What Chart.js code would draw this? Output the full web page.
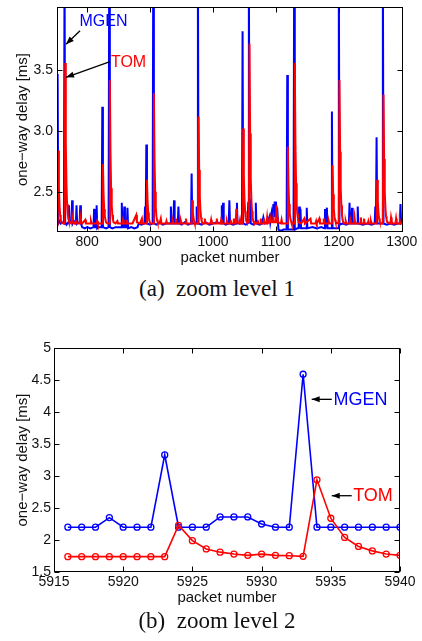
<!DOCTYPE html>
<html>
<head>
<meta charset="utf-8">
<script src="https://cdn.jsdelivr.net/npm/chart.js@4.4.0/dist/chart.umd.min.js"></script>
<style>
html,body{margin:0;padding:0;background:#fff;}
body{width:422px;height:641px;position:relative;overflow:hidden;}
.box{position:absolute;left:0;width:422px;}
.cap{position:absolute;left:217px;transform:translateX(-50%);font-family:"Liberation Serif","Times New Roman",serif;font-size:23px;line-height:1;color:#111;white-space:nowrap;}
</style>
</head>
<body>
<div class="box" style="top:0;height:272px"><canvas id="c1" width="422" height="272"></canvas></div>
<div class="cap" style="top:277px">(a)&nbsp; zoom level 1</div>
<div class="box" style="top:330px;height:280px"><canvas id="c2" width="422" height="280"></canvas></div>
<div class="cap" style="top:609px">(b)&nbsp; zoom level 2</div>
<script>
// zoom level 1: [packet number, one-way delay ms]
const mgenZoom1 = [
  [752,2.25],[753,3.47],[754,2.24],[756,2.26],[758,2.24],[760,2.25],[763,2.24],[764,4.40],[765,2.25],[767,2.23],
  [770,2.25],[771,2.39],[772,2.24],[775,2.25],[776,2.43],[777,2.24],[779,2.26],[782,2.24],[783,2.39],[784,2.24],
  [788,2.25],[789,2.39],[790,2.24],[792,2.21],[796,2.20],[800,2.21],[805,2.20],[810,2.21],[811,2.36],[812,2.21],
  [814,2.21],[815,2.39],[816,2.20],[818,2.21],[823,2.21],[824,3.20],[825,2.21],[830,2.20],[834,2.21],[835,4.40],
  [836,2.21],[840,2.20],[845,2.21],[850,2.21],[854,2.21],[855,2.41],[856,2.21],[858,2.21],[859,2.38],[860,2.21],
  [863,2.21],[864,2.37],[865,2.20],[870,2.21],[875,2.20],[880,2.21],[882,2.24],[886,2.23],[891,2.24],[892,2.38],
  [893,2.24],[894,2.89],[895,2.24],[900,2.23],[904,2.24],[905,4.40],[906,2.24],[910,2.23],[915,2.25],[920,2.23],
  [925,2.24],[932,2.24],[933,2.38],[934,2.24],[937,2.24],[938,2.43],[939,2.24],[944,2.24],[945,2.38],[946,2.24],
  [950,2.23],[955,2.25],[960,2.23],[965,2.24],[966,2.65],[967,2.24],[973,2.24],[974,2.38],[975,2.24],[976,4.40],
  [977,2.24],[982,2.23],[988,2.25],[994,2.23],[1000,2.24],[1006,2.25],[1013,2.24],[1014,2.39],[1015,2.24],[1016,2.41],
  [1017,2.24],[1020,2.23],[1025,2.24],[1026,2.43],[1027,2.24],[1032,2.23],[1037,2.24],[1038,2.41],[1039,2.24],[1046,2.24],
  [1047,3.82],[1048,2.24],[1052,2.23],[1055,2.24],[1056,2.41],[1057,4.40],[1058,2.24],[1059,2.44],[1060,2.24],[1064,2.23],
  [1067,2.24],[1068,2.41],[1069,2.24],[1074,2.23],[1078,2.24],[1080,2.29],[1082,2.24],[1086,2.25],[1088,2.27],[1090,2.30],
  [1091,2.25],[1093,2.32],[1094,2.27],[1096,2.40],[1097,2.30],[1098,2.42],[1099,2.32],[1100,2.42],[1101,2.29],[1102,2.37],
  [1104,2.19],[1108,2.18],[1112,2.19],[1117,2.19],[1118,3.46],[1119,2.19],[1124,2.19],[1128,2.19],[1129,4.40],[1130,2.19],
  [1134,2.20],[1136,2.20],[1137,2.38],[1138,2.20],[1139,2.36],[1140,2.20],[1148,2.20],[1149,2.37],[1150,2.20],[1158,2.21],
  [1165,2.20],[1172,2.21],[1177,2.20],[1178,2.36],[1179,2.20],[1181,2.37],[1182,2.20],[1188,2.20],[1189,3.16],[1190,2.20],
  [1199,2.20],[1200,4.40],[1201,2.23],[1206,2.24],[1212,2.23],[1216,2.24],[1217,2.41],[1218,2.24],[1220,2.24],[1221,2.37],
  [1222,2.24],[1229,2.24],[1230,2.38],[1231,2.24],[1238,2.23],[1245,2.24],[1252,2.23],[1257,2.24],[1258,2.38],[1259,2.24],
  [1260,2.95],[1261,2.24],[1269,2.24],[1270,4.40],[1271,2.24],[1276,2.23],[1282,2.24],[1288,2.23],[1294,2.24],[1297,2.24],
  [1298,2.40],[1299,2.24],[1302,2.25]
];
const tomZoom1 = [
  [752,2.26],[753,2.25],[754,2.84],[755,2.54],[756,2.39],[757,2.31],[758,2.27],[759,2.25],[762,2.24],[764,2.24],
  [765,3.56],[766,2.90],[767,2.57],[768,2.40],[769,2.32],[770,2.28],[771,2.26],[772,2.25],[775,2.24],[776,2.29],
  [777,2.25],[780,2.24],[782,2.26],[784,2.24],[788,2.24],[789,2.29],[790,2.25],[792,2.24],[797,2.27],[798,2.24],
  [805,2.24],[806,2.26],[807,2.24],[815,2.24],[816,2.26],[817,2.24],[824,2.24],[825,2.73],[826,2.48],[827,2.36],
  [828,2.30],[829,2.27],[830,2.25],[832,2.24],[835,2.24],[836,3.42],[837,2.83],[838,2.53],[839,2.39],[840,2.31],
  [841,2.27],[842,2.25],[845,2.24],[848,2.26],[849,2.24],[856,2.24],[857,2.27],[858,2.24],[862,2.24],[863,2.27],
  [864,2.24],[872,2.24],[878,2.31],[879,2.25],[884,2.24],[887,2.28],[888,2.24],[894,2.24],[895,2.60],[896,2.42],
  [897,2.33],[898,2.28],[899,2.26],[900,2.24],[905,2.24],[906,3.31],[907,2.77],[908,2.50],[909,2.37],[910,2.30],
  [911,2.27],[912,2.25],[915,2.24],[917,2.28],[918,2.24],[925,2.24],[926,2.26],[927,2.24],[935,2.24],[936,2.26],
  [937,2.24],[940,2.24],[941,2.28],[942,2.24],[948,2.24],[949,2.26],[950,2.24],[956,2.24],[957,2.28],[958,2.24],
  [966,2.24],[967,2.43],[968,2.33],[969,2.28],[970,2.26],[971,2.24],[976,2.24],[977,3.12],[978,2.68],[979,2.46],
  [980,2.35],[981,2.29],[982,2.26],[983,2.24],[986,2.24],[987,2.28],[988,2.24],[996,2.24],[997,2.27],[998,2.24],
  [1005,2.24],[1006,2.28],[1007,2.24],[1012,2.24],[1013,2.27],[1014,2.24],[1021,2.24],[1022,2.26],[1023,2.24],[1027,2.24],
  [1028,2.27],[1029,2.24],[1032,2.24],[1033,2.28],[1034,2.24],[1036,2.24],[1037,2.36],[1038,2.29],[1039,2.25],[1042,2.24],
  [1043,2.27],[1044,2.24],[1047,2.24],[1048,3.02],[1049,2.63],[1050,2.44],[1051,2.34],[1052,2.29],[1053,2.26],[1054,2.25],
  [1057,2.25],[1058,3.72],[1059,2.98],[1060,2.61],[1061,2.43],[1062,2.34],[1063,2.29],[1064,2.26],[1065,2.25],[1070,2.24],
  [1071,2.27],[1072,2.24],[1075,2.24],[1076,2.28],[1077,2.24],[1080,2.24],[1081,2.28],[1082,2.24],[1085,2.24],[1086,2.29],
  [1087,2.24],[1090,2.25],[1091,2.28],[1092,2.25],[1095,2.25],[1096,2.29],[1097,2.25],[1100,2.25],[1101,2.39],[1102,2.29],
  [1103,2.25],[1108,2.24],[1109,2.27],[1110,2.24],[1118,2.24],[1119,2.87],[1120,2.55],[1121,2.40],[1122,2.32],[1123,2.28],
  [1124,2.26],[1125,2.24],[1129,2.24],[1130,3.56],[1131,2.90],[1132,2.57],[1133,2.40],[1134,2.32],[1135,2.28],[1136,2.25],
  [1140,2.24],[1145,2.28],[1146,2.24],[1155,2.28],[1156,2.24],[1163,2.24],[1164,2.26],[1165,2.24],[1169,2.28],[1170,2.24],
  [1175,2.24],[1176,2.28],[1177,2.24],[1183,2.24],[1184,2.26],[1185,2.24],[1189,2.24],[1190,2.72],[1191,2.48],[1192,2.36],
  [1193,2.30],[1194,2.27],[1195,2.25],[1200,2.24],[1201,3.42],[1202,2.83],[1203,2.53],[1204,2.39],[1205,2.31],[1206,2.27],
  [1207,2.25],[1210,2.24],[1211,2.26],[1212,2.24],[1217,2.24],[1218,2.27],[1219,2.24],[1224,2.24],[1225,2.29],[1226,2.24],
  [1234,2.24],[1235,2.29],[1236,2.24],[1239,2.24],[1240,2.28],[1241,2.24],[1246,2.24],[1247,2.26],[1248,2.24],[1250,2.24],
  [1251,2.26],[1252,2.24],[1260,2.24],[1261,2.60],[1262,2.42],[1263,2.33],[1264,2.28],[1265,2.26],[1266,2.24],[1270,2.24],
  [1271,3.30],[1272,2.77],[1273,2.50],[1274,2.37],[1275,2.30],[1276,2.27],[1277,2.25],[1282,2.24],[1283,2.29],[1284,2.26],
  [1285,2.24],[1290,2.24],[1291,2.28],[1292,2.24],[1296,2.24],[1297,2.26],[1298,2.24],[1302,2.25]
];
const xTicks1 = [800, 900, 1000, 1100, 1200, 1300];
const yTicks1 = [2.5, 3.0, 3.5];

// zoom level 2
const packets2 = [5916,5917,5918,5919,5920,5921,5922,5923,5924,5925,5926,5927,5928,
                  5929,5930,5931,5932,5933,5934,5935,5936,5937,5938,5939,5940];
const mgenZoom2 = [2.20,2.20,2.20,2.35,2.20,2.20,2.20,3.33,2.20,2.20,2.20,2.36,2.36,
                   2.36,2.25,2.20,2.20,4.59,2.20,2.20,2.20,2.20,2.20,2.20,2.20];
const tomZoom2 = [1.74,1.74,1.74,1.74,1.74,1.74,1.74,1.74,2.23,1.99,1.86,1.81,1.78,
                  1.76,1.78,1.76,1.755,1.745,2.94,2.34,2.04,1.90,1.83,1.78,1.76];
const xTicks2 = [5915, 5920, 5925, 5930, 5935, 5940];
const yTicks2 = [1.5, 2, 2.5, 3, 3.5, 4, 4.5, 5];

const BLUE = '#0000ff', RED = '#ff0000';
const FONT = '"Liberation Sans", Arial, Helvetica, sans-serif';

function arrow(ctx, x1, y1, x2, y2) {
  const a = Math.atan2(y2 - y1, x2 - x1), L = 8, W = 3;
  ctx.beginPath(); ctx.moveTo(x1, y1); ctx.lineTo(x2, y2); ctx.stroke();
  ctx.beginPath();
  ctx.moveTo(x2, y2);
  ctx.lineTo(x2 - L * Math.cos(a) + W * Math.sin(a), y2 - L * Math.sin(a) - W * Math.cos(a));
  ctx.lineTo(x2 - L * Math.cos(a) - W * Math.sin(a), y2 - L * Math.sin(a) + W * Math.cos(a));
  ctx.closePath(); ctx.fill();
}

// matlab-like box with inward ticks + text arrows
function framePlugin(notes, noteSize) {
  return {
    id: 'frame',
    afterDatasetsDraw(chart) {
      const ctx = chart.ctx, a = chart.chartArea, x = chart.scales.x, y = chart.scales.y;
      const L = Math.round(a.left) + 0.5, R = Math.round(a.right) - 0.5;
      const T = Math.round(a.top) + 0.5, B = Math.round(a.bottom) - 0.5;
      ctx.save();
      ctx.strokeStyle = '#000';
      ctx.lineWidth = 1;
      ctx.strokeRect(L, T, R - L, B - T);
      ctx.beginPath();
      x.ticks.forEach(t => {
        const p = Math.round(x.getPixelForValue(t.value)) + 0.5;
        ctx.moveTo(p, B); ctx.lineTo(p, B - 5);
        ctx.moveTo(p, T); ctx.lineTo(p, T + 5);
      });
      y.ticks.forEach(t => {
        const p = Math.round(y.getPixelForValue(t.value)) + 0.5;
        ctx.moveTo(L, p); ctx.lineTo(L + 5, p);
        ctx.moveTo(R, p); ctx.lineTo(R - 5, p);
      });
      ctx.stroke();
      ctx.fillStyle = '#000';
      ctx.lineWidth = 1.3;
      notes.forEach(n => {
        arrow(ctx, x.getPixelForValue(n.from[0]), y.getPixelForValue(n.from[1]),
                   x.getPixelForValue(n.to[0]), y.getPixelForValue(n.to[1]));
      });
      ctx.font = noteSize + 'px ' + FONT;
      ctx.textAlign = 'center';
      ctx.textBaseline = 'middle';
      notes.forEach(n => {
        ctx.fillStyle = n.color;
        ctx.fillText(n.text, x.getPixelForValue(n.at[0]), y.getPixelForValue(n.at[1]));
      });
      ctx.restore();
    }
  };
}

function makeChart(id, datasets, o) {
  return new Chart(document.getElementById(id), {
    type: 'line',
    data: { datasets: datasets },
    options: {
      responsive: false,
      animation: false,
      devicePixelRatio: 1,
      layout: { padding: { top: o.padTop, right: o.padRight, left: 0, bottom: 0 } },
      plugins: { legend: { display: false }, tooltip: { enabled: false } },
      scales: {
        x: {
          type: 'linear', min: o.xMin, max: o.xMax,
          grid: { display: false, drawTicks: false }, border: { display: false },
          afterBuildTicks: s => { s.ticks = o.xTicks.map(v => ({ value: v })); },
          afterFit: s => { s.height = o.xH; s.paddingLeft = 0; s.paddingRight = 0; },
          ticks: { padding: 2, autoSkip: false, maxRotation: 0, color: '#111',
                   font: { family: FONT, size: 14 }, callback: v => String(v) },
          title: { display: true, text: 'packet number', color: '#111',
                   font: { family: FONT, size: 15 }, padding: { top: 0, bottom: o.xTitlePad } }
        },
        y: {
          type: 'linear', min: o.yMin, max: o.yMax,
          grid: { display: false, drawTicks: false }, border: { display: false },
          afterBuildTicks: s => { s.ticks = o.yTicks.map(v => ({ value: v })); },
          afterFit: s => { s.width = o.yW; s.paddingTop = 0; s.paddingBottom = 0; },
          ticks: { padding: o.yPad, autoSkip: false, color: '#111',
                   font: { family: FONT, size: 14 }, callback: o.yFmt },
          title: { display: true, text: 'one\u2212way delay [ms]', color: '#111',
                   font: { family: FONT, size: 15 }, padding: { top: 14, bottom: 0 } }
        }
      }
    },
    plugins: [framePlugin(o.notes, o.noteSize)]
  });
}

makeChart('c1', [
  { label: 'TOM', data: tomZoom1.map(p => ({ x: p[0], y: p[1] })), borderColor: RED,
    borderWidth: 2, pointRadius: 0, tension: 0, clip: 0, order: 1 },
  { label: 'MGEN', data: mgenZoom1.map(p => ({ x: p[0], y: p[1] })), borderColor: BLUE,
    borderWidth: 2, pointRadius: 0, tension: 0, clip: 0, order: 2 }
], {
  padTop: 7, padRight: 19, xH: 40, yW: 57, yPad: 4, xTitlePad: 5,
  xMin: 752, xMax: 1302, yMin: 2.17, yMax: 4.02,
  xTicks: xTicks1, yTicks: yTicks1, yFmt: v => v.toFixed(1),
  noteSize: 16,
  notes: [
    { text: 'MGEN', color: BLUE, at: [825.9, 3.90], from: [788.6, 3.825], to: [766.3, 3.713] },
    { text: 'TOM', color: RED, at: [865.7, 3.564], from: [836.3, 3.570], to: [766.3, 3.442] }
  ]
});

makeChart('c2', [
  { label: 'TOM', data: packets2.map((p, i) => ({ x: p, y: tomZoom2[i] })), borderColor: RED,
    backgroundColor: 'rgba(0,0,0,0)', borderWidth: 1.6, pointRadius: 3, pointBorderWidth: 1.3,
    pointBackgroundColor: 'rgba(0,0,0,0)', tension: 0, order: 1 },
  { label: 'MGEN', data: packets2.map((p, i) => ({ x: p, y: mgenZoom2[i] })), borderColor: BLUE,
    backgroundColor: 'rgba(0,0,0,0)', borderWidth: 1.6, pointRadius: 3, pointBorderWidth: 1.3,
    pointBackgroundColor: 'rgba(0,0,0,0)', tension: 0, order: 2 }
], {
  padTop: 18, padRight: 22, xH: 38, yW: 54, yPad: 3, xTitlePad: 3,
  xMin: 5915, xMax: 5940, yMin: 1.5, yMax: 5,
  xTicks: xTicks2, yTicks: yTicks2, yFmt: v => String(v),
  noteSize: 18,
  notes: [
    { text: 'MGEN', color: BLUE, at: [5937.15, 4.19], from: [5935.07, 4.198], to: [5933.62, 4.198] },
    { text: 'TOM', color: RED, at: [5938.05, 2.69], from: [5936.51, 2.692], to: [5935.07, 2.692] }
  ]
});
</script>
</body>
</html>
